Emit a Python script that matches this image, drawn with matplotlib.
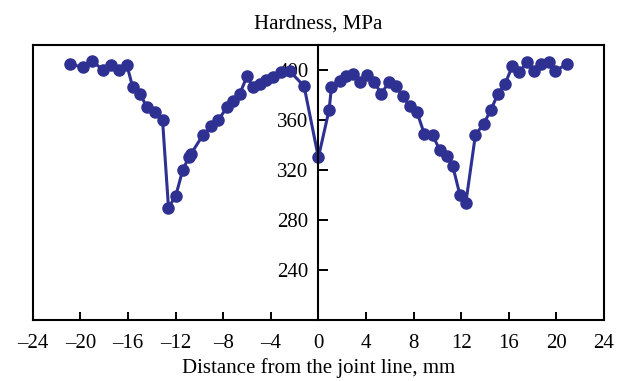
"""Hardness profile across the joint line."""
import matplotlib

matplotlib.use("Agg")
import matplotlib.pyplot as plt  # noqa: E402

plt.rcParams["font.family"] = ["Liberation Serif", "DejaVu Serif"]

# distance from joint line (mm) and hardness (MPa)
dist = [
    -20.9, -19.8, -19.0, -18.1, -17.4, -16.8, -16.1, -15.6, -15.0, -14.4,
    -13.7, -13.1, -12.6, -12.0, -11.4, -10.9, -10.7, -9.7, -9.0, -8.4,
    -7.7, -7.2, -6.6, -6.0, -5.5, -4.9, -4.4, -3.8, -3.1, -2.4,
    -1.2, 0.0, 0.9, 1.1, 1.8, 2.3, 2.9, 3.5, 4.1, 4.7,
    5.3, 5.9, 6.5, 7.1, 7.7, 8.3, 8.9, 9.6, 10.2, 10.8,
    11.3, 11.9, 12.4, 13.2, 13.9, 14.5, 15.1, 15.7, 16.3, 16.9,
    17.5, 18.1, 18.7, 19.4, 19.9, 20.9,
]
hardness = [
    405, 402, 407, 400, 404, 400, 404, 386, 381, 370,
    366, 360, 290, 299, 320, 330, 333, 348, 355, 360,
    370, 375, 381, 395, 386, 389, 392, 394, 398, 399,
    387, 330, 368, 386, 391, 395, 397, 390, 396, 390,
    381, 390, 387, 379, 371, 366, 349, 348, 336, 331,
    323, 300, 294, 348, 357, 368, 381, 389, 403, 398,
    406, 399, 405, 406, 399, 405,
]
xticks = list(range(-24, 25, 4))
yticks = [240, 280, 320, 360, 400]

fig = plt.figure(figsize=(6.2, 3.81), dpi=100)
ax = fig.add_axes([0.053, 0.16, 0.921, 0.722])

ax.plot(dist, hardness, "o-", color="#2e3192", lw=2.2, ms=8, clip_on=False)

ax.set_xlim(-24, 24)
ax.set_ylim(200, 420)
ax.set_xticks(xticks)
ax.set_yticks(yticks)
ax.set_xticklabels([f"{t}".replace("-", "\u2013") for t in xticks])

ax.spines["left"].set_position(("data", 0))
ax.axvline(-24, color="black", lw=1.5, clip_on=False)
for s in ax.spines.values():
    s.set_linewidth(1.5)

ax.tick_params(axis="x", direction="in", length=6, width=1.4, labelsize=15, pad=10)
ax.tick_params(axis="y", direction="in", length=7, width=1.4, labelsize=15, pad=7)

ax.set_title("Hardness, MPa", fontsize=15, pad=12)
ax.set_xlabel("Distance from the joint line, mm", fontsize=15, labelpad=4)

fig.savefig("out.png", dpi=100)
plt.close(fig)
